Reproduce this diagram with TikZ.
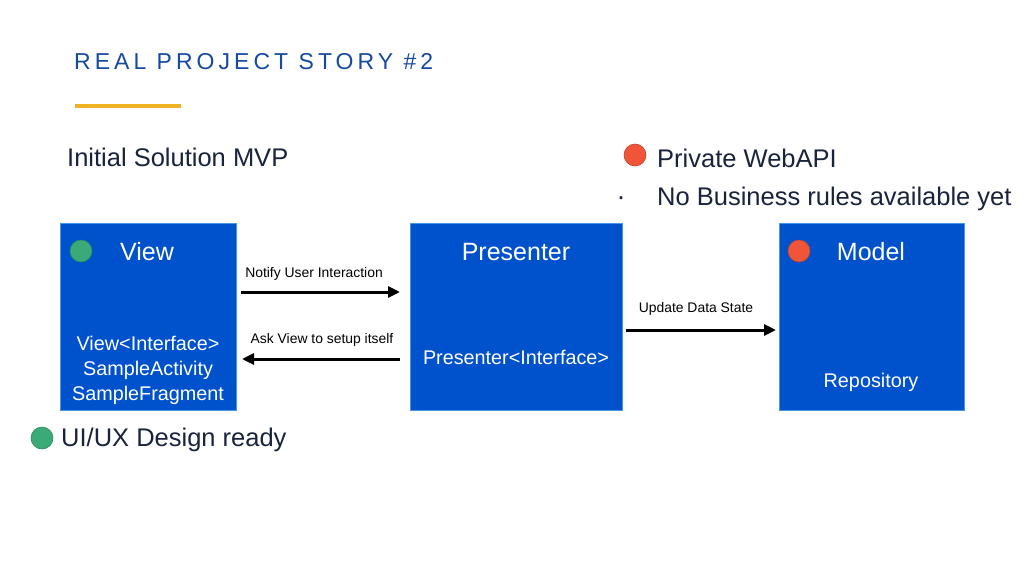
\documentclass[tikz,border=0pt]{standalone}
\usepackage{fontspec}
\setmainfont{Liberation Sans}
\newfontfamily\titlefont[LetterSpace=17.5]{Liberation Sans}
\usetikzlibrary{arrows.meta}
\definecolor{boxblue}{RGB}{0,82,204}
\definecolor{boxedge}{RGB}{70,150,235}
\definecolor{titleblue}{RGB}{22,74,160}
\definecolor{goldline}{RGB}{240,178,35}
\definecolor{navy}{RGB}{25,35,60}
\definecolor{dotgreen}{RGB}{60,170,120}
\definecolor{dotred}{RGB}{240,85,58}
\tikzset{
  compbox/.style={draw=boxedge, line width=1pt, fill=boxblue, minimum height=187pt, inner sep=0pt},
  boxtitle/.style={text=white, font=\fontsize{25}{29}\selectfont, inner sep=0pt},
  boxtext/.style={text=white, font=\fontsize{19.8}{25}\selectfont, align=center, inner sep=0pt},
  lbl/.style={text=black, font=\fontsize{13.9}{16}\selectfont, inner sep=0pt},
  bigtext/.style={text=navy, font=\fontsize{25.5}{29}\selectfont, anchor=west, inner sep=0pt},
  flow/.style={-{Triangle[length=12pt,width=11pt]}, line width=3pt, black},
  dot/.style={circle, minimum size=22pt, inner sep=0pt, draw=#1!80!black, line width=0.6pt, fill=#1}
}
\begin{document}
\begin{tikzpicture}[x=1pt,y=-1pt]
\useasboundingbox[fill=white] (0,0) rectangle (1024,576);
% title
\node[anchor=west, inner sep=0pt, text=titleblue, font=\titlefont\fontsize{23}{27}\selectfont] (title) at (74,62) {REAL PROJECT STORY \#2};
\draw[goldline, line width=4.5pt] (75,106) -- (181,106);
% headings
\node[bigtext] (initial) at (67,157) {Initial Solution MVP};
\node[dot=dotred] (reddot) at (635,155) {};
\node[bigtext] (webapi) at (657,158) {Private WebAPI};
\node[text=navy, font=\fontsize{27}{29}\selectfont, inner sep=0pt] (bullet) at (621,201) {·};
\node[bigtext] (nobiz) at (657,199) {No Business rules available yet};
\node[dot=dotgreen] (greendot2) at (42,438) {};
\node[bigtext] (uiux) at (61,440) {UI/UX Design ready};
% boxes
\node[compbox, minimum width=176pt] (view) at (148,316.5) {};
\node[compbox, minimum width=212pt] (presenter) at (516,316.5) {};
\node[compbox, minimum width=185pt] (model) at (871.5,317) {};
% view contents
\node[dot=dotgreen] (greendot1) at (81,251) {};
\node[boxtitle] (viewtitle) at (147,252) {View};
\node[boxtext] (viewtext) at (148,370) {View<Interface>\\SampleActivity\\SampleFragment};
% presenter contents
\node[boxtitle] (prestitle) at (516,252) {Presenter};
\node[boxtext] (prestext) at (516,357) {Presenter<Interface>};
% model contents
\node[dot=dotred] (reddot2) at (799,251) {};
\node[boxtitle] (modeltitle) at (871,252) {Model};
\node[boxtext] (modeltext) at (871,382) {Repository};
% arrows
\coordinate (n1) at (241,292);
\coordinate (n2) at (400,292);
\draw[flow] (n1) -- (n2);
\node[lbl] (notify) at (314,274) {Notify User Interaction};
\coordinate (a1) at (400,359);
\coordinate (a2) at (242,359);
\draw[flow] (a1) -- (a2);
\node[lbl] (ask) at (322,340) {Ask View to setup itself};
\coordinate (u1) at (626,330);
\coordinate (u2) at (776,330);
\draw[flow] (u1) -- (u2);
\node[lbl] (update) at (696,309) {Update Data State};
\end{tikzpicture}
\end{document}
